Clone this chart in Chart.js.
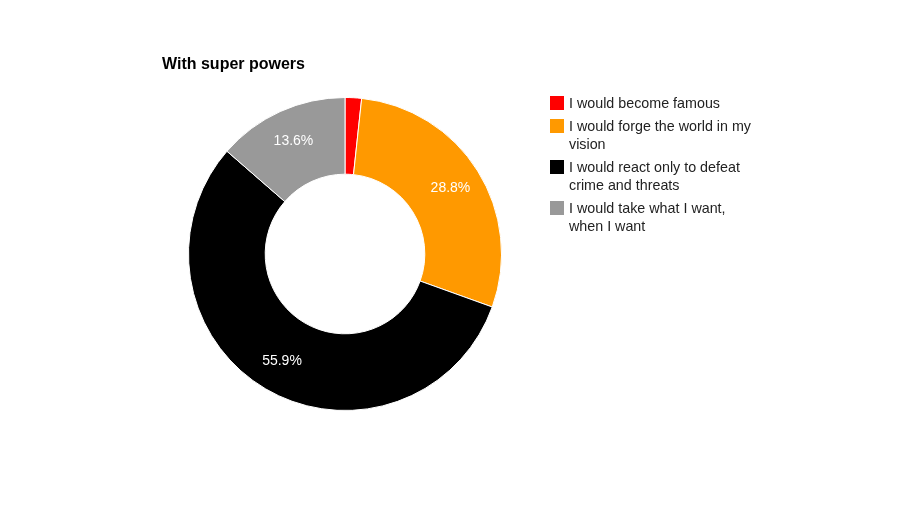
<!DOCTYPE html>
<html>
<head>
<meta charset="utf-8">
<script src="https://cdn.jsdelivr.net/npm/chart.js@4"></script>
<style>
  body { margin: 0; background: #fff; font-family: Arial, "Liberation Sans", sans-serif; }
  #wrap { position: relative; width: 914px; height: 507px; }
  #title { position: absolute; left: 162px; top: 55px; font-size: 16px; font-weight: bold; color: #000; }
  #legend { position: absolute; left: 550px; top: 94px; width: 220px; font-size: 14.3px; color: #222; }
  .item { display: flex; line-height: 18px; margin-bottom: 5px; }
  .box { width: 14px; height: 14px; margin-top: 2px; margin-right: 5px; flex: none; }
  .txt { width: 190px; }
</style>
</head>
<body>
<div id="wrap">
  <canvas id="donut" width="914" height="507"></canvas>
  <div id="title">With super powers</div>
  <div id="legend"></div>
</div>
<script>
// Data
const labels = [
  'I would become famous',
  'I would forge the world in my vision',
  'I would react only to defeat crime and threats',
  'I would take what I want, when I want'
];
const shares = [1.7, 28.8, 55.9, 13.6];
const colors = ['#ff0000', '#ff9900', '#000000', '#999999'];

// Legend as html
const legendEl = document.getElementById('legend');
labels.forEach((l, i) => {
  const row = document.createElement('div');
  row.className = 'item';
  row.innerHTML = '<div class="box" style="background:' + colors[i] + '"></div><div class="txt">' + l + '</div>';
  legendEl.appendChild(row);
});

// Percent labels inside slices (skip tiny ones)
const sliceLabels = {
  id: 'sliceLabels',
  afterDatasetsDraw(chart) {
    const c = chart.ctx;
    const meta = chart.getDatasetMeta(0);
    const total = shares.reduce((a, b) => a + b, 0);
    c.save();
    c.fillStyle = '#fff';
    c.font = '14px Arial, "Liberation Sans", sans-serif';
    c.textAlign = 'center';
    c.textBaseline = 'middle';
    meta.data.forEach((arc, i) => {
      const pct = shares[i] / total * 100;
      if (pct < 5) return;
      const p = arc.getProps(['x', 'y', 'startAngle', 'endAngle', 'outerRadius']);
      const mid = (p.startAngle + p.endAngle) / 2;
      const r = p.outerRadius * 0.795;
      c.fillText(pct.toFixed(1) + '%', p.x + Math.cos(mid) * r, p.y + Math.sin(mid) * r);
    });
    c.restore();
  }
};

new Chart(document.getElementById('donut').getContext('2d'), {
  type: 'doughnut',
  data: {
    labels: labels,
    datasets: [{
      data: shares,
      backgroundColor: colors,
      borderColor: '#fff',
      borderWidth: 1
    }]
  },
  options: {
    responsive: false,
    animation: false,
    cutout: '51%',
    layout: { padding: { left: 188, right: 412, top: 97, bottom: 96 } },
    plugins: {
      legend: { display: false },
      tooltip: { enabled: false }
    }
  },
  plugins: [sliceLabels]
});
</script>
</body>
</html>
